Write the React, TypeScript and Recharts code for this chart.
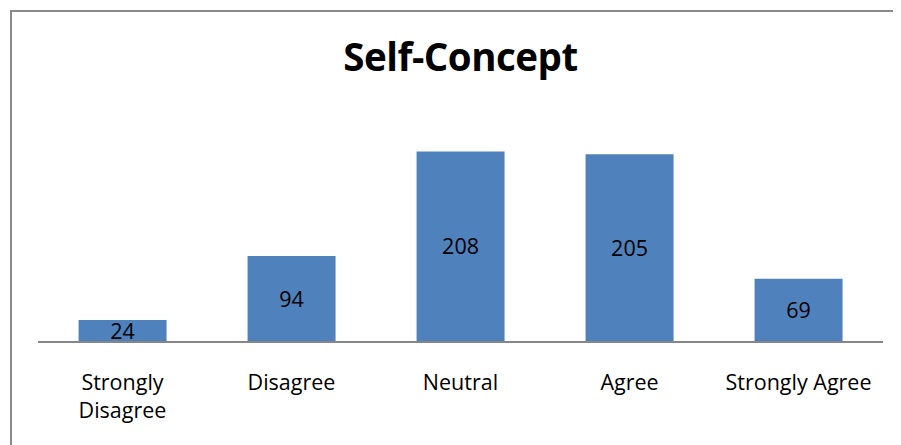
import { BarChart, Bar, XAxis, YAxis, LabelList } from 'recharts';

const categories = ['Strongly Disagree', 'Disagree', 'Neutral', 'Agree', 'Strongly Agree'];
const counts = [24, 94, 208, 205, 69];
// how each category label breaks over lines under the axis
const tickLines = [['Strongly', 'Disagree'], ['Disagree'], ['Neutral'], ['Agree'], ['Strongly Agree']];

const data = categories.map((name, i) => ({ name, value: counts[i] }));

const FONT = '"Open Sans", Lato, sans-serif';

function CategoryTick(props: any) {
    const { x, y, index } = props;
    const lines = tickLines[index] || [categories[index]];
    return (
        <text x={x} y={y} textAnchor="middle" fill="#000" fontSize={21.5} fontFamily={FONT}>
            {lines.map((line: string, i: number) => (
                <tspan key={i} x={x} dy={i === 0 ? 40 : 28}>
                    {line}
                </tspan>
            ))}
        </text>
    );
}

export default function App() {
    return (
        <div style={{ position: 'relative', width: 893, height: 437, overflow: 'hidden', background: '#fff' }}>
            <div
                style={{
                    position: 'absolute',
                    left: 2,
                    top: 2,
                    width: 1000,
                    height: 600,
                    border: '2px solid #8a8a8a',
                    boxSizing: 'border-box'
                }}
            />
            <div
                style={{
                    position: 'absolute',
                    left: 30,
                    width: 845,
                    top: 22,
                    textAlign: 'center',
                    fontFamily: FONT,
                    fontWeight: 'bold',
                    fontSize: 38.5,
                    letterSpacing: -0.5,
                    color: '#000'
                }}
            >
                Self-Concept
            </div>
            <div style={{ position: 'absolute', left: 0, top: 0 }}>
                <BarChart
                    width={893}
                    height={437}
                    data={data}
                    margin={{ top: 105, right: 18, left: 30, bottom: 13 }}
                    barCategoryGap="24%"
                >
                    <XAxis
                        dataKey="name"
                        height={90}
                        interval={0}
                        tickLine={false}
                        axisLine={{ stroke: '#868686', strokeWidth: 2 }}
                        tick={<CategoryTick />}
                    />
                    <YAxis hide domain={[0, 250]} />
                    <Bar dataKey="value" fill="#4F81BD" isAnimationActive={false}>
                        <LabelList
                            dataKey="value"
                            position="center"
                            fill="#000"
                            fontSize={21.5}
                            fontFamily={FONT}
                        />
                    </Bar>
                </BarChart>
            </div>
        </div>
    );
}
